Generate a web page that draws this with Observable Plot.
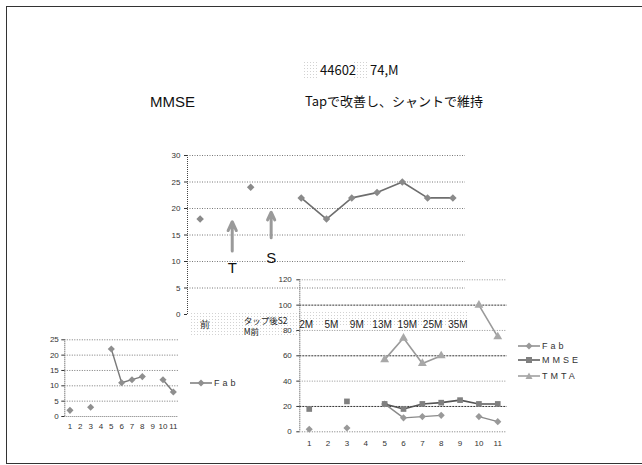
<!DOCTYPE html>
<html><head><meta charset="utf-8">
<script src="https://cdn.jsdelivr.net/npm/d3@7"></script>
<script src="https://cdn.jsdelivr.net/npm/@observablehq/plot@0.6"></script>
<style>
body{margin:0;background:#fff;}
#slide{position:relative;width:642px;height:465px;overflow:hidden;background:#fff;font-family:"Noto Sans CJK JP","Liberation Sans",sans-serif;}
.abs{position:absolute;white-space:nowrap;}
.blur{position:absolute;background-image:radial-gradient(#d2d2d2 0.7px, transparent 1px);background-size:3px 3px;}
.frame{position:absolute;left:6px;top:6px;width:700px;height:456px;border:1px solid #333;}
.leg{position:absolute;display:flex;align-items:center;font-family:"Liberation Sans",sans-serif;font-size:9px;color:#333;letter-spacing:3px;}
.leg svg{margin-right:2px;}
</style></head><body><div id="slide"></div>
<script>
// ---- data ----
const categories = [1,2,3,4,5,6,7,8,9,10,11];
const mmse = [18,null,24,null,22,18,22,23,25,22,22];
const fab  = [2,null,3,null,22,11,12,13,null,12,8];
const tmta = [null,null,null,null,57,74,54,60,null,100,75];
const topTickLabels = ["前","","","","2M","5M","9M","13M","19M","25M","35M"];
const tapLabel = "タップ後S2\nM前";
const arrowX = [2.27, 3.81];
const arrowFrom = [12, 14.5];
const arrowTo = [17.5, 19.3];
const arrowLabels = ["T", "S"];
const arrowLabelY = [8.7, 10.6];
const ticksTop = [0,5,10,15,20,25,30];
const ticksCombo = [0,20,40,60,80,100,120];
const ticksFab = [0,5,10,15,20,25];
const seriesNames = ["Fab","MMSE","TMTA"];

const slide = document.getElementById("slide");
const font = "'Liberation Sans', sans-serif";
function place(el, left, top){ el.style.position="absolute"; el.style.left=left+"px"; el.style.top=top+"px"; slide.appendChild(el); }
function div(cls, html, style){ const d=document.createElement("div"); d.className=cls; d.innerHTML=html; Object.assign(d.style, style||{}); slide.appendChild(d); return d; }

// frame + blurs + titles
div("frame","");
div("blur","",{left:"303px",top:"61px",width:"15px",height:"17px"});
div("blur","",{left:"353px",top:"61px",width:"15px",height:"17px"});
div("blur","",{left:"190px",top:"312px",width:"110px",height:"24px"});
div("blur","",{left:"300px",top:"311px",width:"168px",height:"16px"});
div("abs","44602",{left:"320px",top:"60px",fontSize:"13px",color:"#111"});
div("abs","74,M",{left:"370px",top:"60px",fontSize:"13px",color:"#111"});
div("abs","MMSE",{left:"150px",top:"93px",fontSize:"15px",color:"#111",fontFamily:font});
div("abs","Tapで改善し、シャントで維持",{left:"305px",top:"91px",fontSize:"13px",color:"#111"});

const rows = categories.map((c,i)=>({c, mmse:mmse[i], fab:fab[i], tmta:tmta[i], label: topTickLabels[i]}));
const arrows = arrowX.map((x,i)=>({x, y1:arrowFrom[i], y2:arrowTo[i], label:arrowLabels[i], ly:arrowLabelY[i]}));
const grid = {stroke:"#555", strokeDasharray:"1,1.5", strokeWidth:0.8};

// ---- chart 1: MMSE ----
const p1 = Plot.plot({
  width:330, height:200, marginLeft:37, marginRight:15, marginTop:15, marginBottom:26,
  x:{domain:[0.5,11.5], axis:null},
  y:{domain:[0,30], label:null, axis:null},
  style:{background:"transparent", fontFamily:font, fontSize:"8px", color:"#333", overflow:"visible"},
  marks:[
    Plot.ruleY(ticksTop.filter(t=>t>0), grid),
    Plot.ruleX([0.5], {stroke:"#444", strokeDasharray:"1,1"}),
    Plot.axisY({ticks:ticksTop, tickSize:3, tickPadding:4, label:null}),
    Plot.line(rows, {x:"c", y:"mmse", stroke:"#6e6e6e", strokeWidth:1.6}),
    Plot.dot(rows, {x:"c", y:"mmse", symbol:"diamond2", r:3.4, fill:"#8a8a8a"}),
    Plot.arrow(arrows, {x1:"x", x2:"x", y1:"y1", y2:"y2", stroke:"#9a9a9a", strokeWidth:3, headLength:5, headAngle:50}),
    Plot.text(arrows, {x:"x", y:"ly", text:"label", fontSize:15, fill:"#111"}),
    Plot.text(rows, {x:"c", y:()=>0, text:"label", dy:10, dx:5, fontSize:10, fill:"#222"}),
    Plot.text([tapLabel], {x:()=>3, y:()=>0, text:d=>d, dx:-7, dy:2, textAnchor:"start", lineAnchor:"top", lineHeight:1.3, fontSize:8.5, fill:"#222", fontFamily:"'Noto Sans CJK JP', sans-serif"})
  ]
});
place(p1, 150, 140);

// ---- chart 3: Fab small ----
const p3 = Plot.plot({
  width:155, height:105, marginLeft:34.3, marginRight:7, marginTop:9.3, marginBottom:19,
  x:{domain:[0.5,11.5], label:null},
  y:{domain:[0,25], label:null},
  style:{background:"transparent", fontFamily:font, fontSize:"8px", color:"#333", overflow:"visible"},
  marks:[
    Plot.ruleY(ticksFab.filter(t=>t>0), grid),
    Plot.ruleY([0], {stroke:"#777", strokeDasharray:"1,1"}),
    Plot.ruleX([0.5], {stroke:"#444", strokeDasharray:"1,1"}),
    Plot.axisY({ticks:ticksFab, tickSize:3, tickPadding:3, label:null}),
    Plot.axisX({ticks:categories, tickSize:0, tickPadding:7, label:null}),
    Plot.line(rows, {x:"c", y:"fab", stroke:"#7a7a7a", strokeWidth:1.4}),
    Plot.dot(rows, {x:"c", y:"fab", symbol:"diamond2", r:3.2, fill:"#8f8f8f"})
  ]
});
place(p3, 30, 330);

// ---- chart 2: combined ----
const p2 = Plot.plot({
  width:250, height:190, marginLeft:34.3, marginRight:8.3, marginTop:14.3, marginBottom:23.7,
  x:{domain:[0.5,11.5], label:null},
  y:{domain:[0,120], label:null},
  style:{background:"transparent", fontFamily:font, fontSize:"8px", color:"#333", overflow:"visible"},
  marks:[
    Plot.ruleY([40,80,120], {stroke:"#777", strokeDasharray:"1,1.5", strokeWidth:0.8}),
    Plot.ruleY([20,60,100], {stroke:"#333", strokeDasharray:"2,1", strokeWidth:1}),
    Plot.ruleY([0], {stroke:"#777", strokeDasharray:"1,1.5"}),
    Plot.ruleX([0.5], {stroke:"#444", strokeDasharray:"1,1"}),
    Plot.axisY({ticks:ticksCombo, tickSize:3, tickPadding:5, label:null}),
    Plot.axisX({ticks:categories, tickSize:0, tickPadding:9, label:null}),
    Plot.line(rows, {x:"c", y:"tmta", stroke:"#9a9a9a", strokeWidth:1.6}),
    Plot.dot(rows, {x:"c", y:"tmta", symbol:"triangle", r:3.3, fill:"#a8a8a8"}),
    Plot.line(rows, {x:"c", y:"fab", stroke:"#8a8a8a", strokeWidth:1.4}),
    Plot.dot(rows, {x:"c", y:"fab", symbol:"diamond2", r:3.2, fill:"#999"}),
    Plot.line(rows, {x:"c", y:"mmse", stroke:"#555", strokeWidth:1.6}),
    Plot.dot(rows, {x:"c", y:"mmse", symbol:"square", r:3.2, fill:"#808080"})
  ]
});
place(p2, 265, 265);

// ---- legends ----
function swatch(symbol, fill, stroke){
  let m = "";
  if(symbol==="diamond") m = `<path d="M11,1.5L14.5,5L11,8.5L7.5,5Z" fill="${fill}"/>`;
  if(symbol==="square") m = `<rect x="8" y="2" width="6" height="6" fill="${fill}"/>`;
  if(symbol==="triangle") m = `<path d="M11,1.5L14.5,8L7.5,8Z" fill="${fill}"/>`;
  return `<svg width="22" height="10"><line x1="0" x2="22" y1="5" y2="5" stroke="${stroke}" stroke-width="1.5"/>${m}</svg>`;
}
const legendStyle = [["diamond","#999","#8a8a8a"],["square","#808080","#555"],["triangle","#a8a8a8","#9a9a9a"]];
const legendY = [341, 355, 371];
seriesNames.forEach((n,i)=>{
  div("leg", swatch(...legendStyle[i]) + n, {left:"518px", top:legendY[i]+"px"});
});
div("leg", swatch("diamond","#8f8f8f","#7a7a7a") + seriesNames[0], {left:"190px", top:"378px"});
</script></body></html>
